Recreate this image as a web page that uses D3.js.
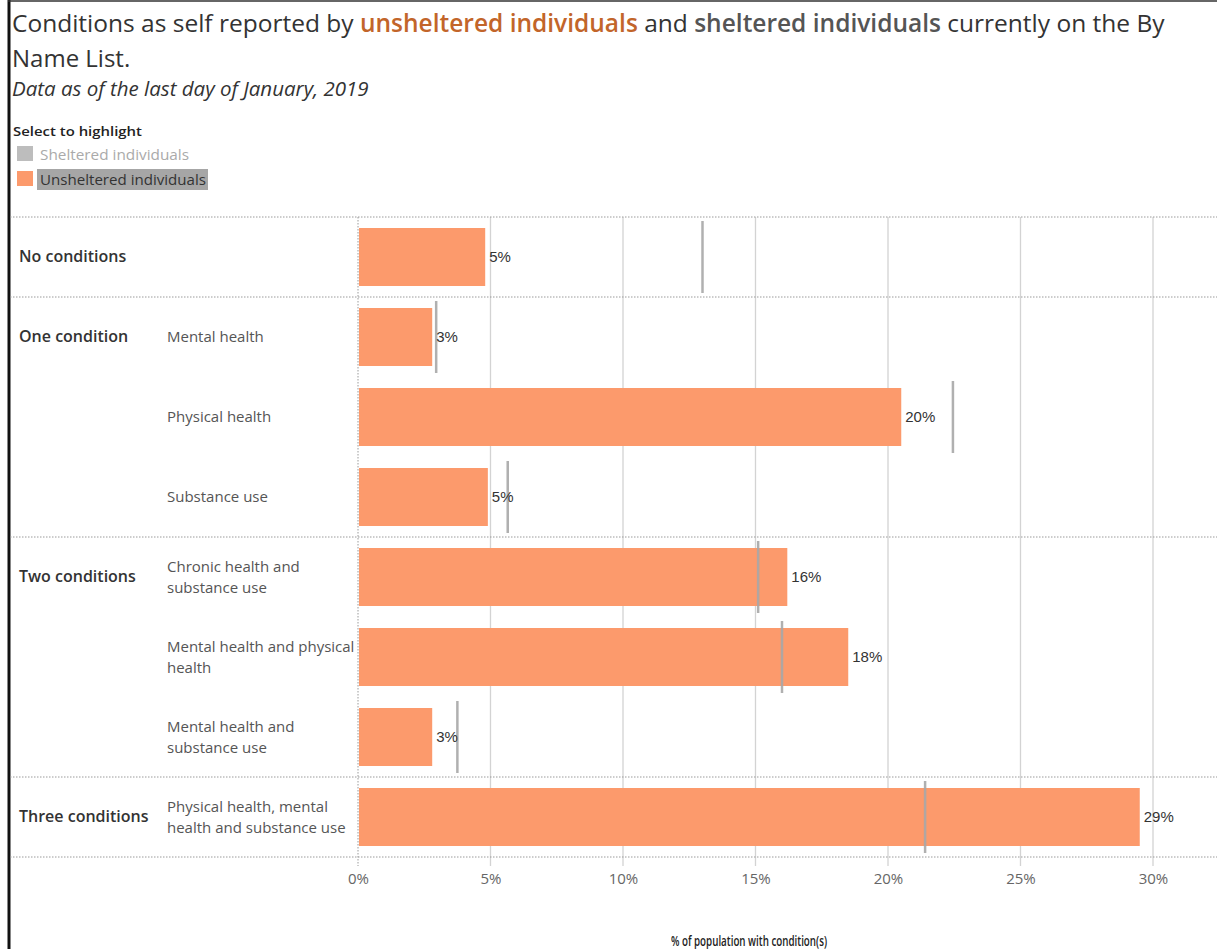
<!DOCTYPE html>
<html><head><meta charset="utf-8">
<script src="https://cdn.jsdelivr.net/npm/d3@7"></script>
<style>body{margin:0;background:#fff;font-family:"Open Sans",sans-serif}</style>
</head><body>
<svg id="c" width="1217" height="949"></svg>
<script>
const groups = ["No conditions","One condition","One condition","One condition","Two conditions","Two conditions","Two conditions","Three conditions"];
const subLabels = [[""],["Mental health"],["Physical health"],["Substance use"],["Chronic health and","substance use"],["Mental health and physical","health"],["Mental health and","substance use"],["Physical health, mental","health and substance use"]];
const unsheltered = [4.8, 2.8, 20.5, 4.9, 16.2, 18.5, 2.8, 29.5];
const sheltered = [13.0, 2.95, 22.45, 5.65, 15.1, 16.0, 3.75, 21.4];
const valueLabels = ["5%","3%","20%","5%","16%","18%","3%","29%"];
const tickValues = [0,5,10,15,20,25,30];
const groupNames = ["No conditions","One condition","Two conditions","Three conditions"];

const svg = d3.select("#c");
const W = 1217, H = 949;
const x = d3.scaleLinear().domain([0,30]).range([358,1153]);
const y = d3.scaleBand().domain(d3.range(unsheltered.length)).range([217,857]).paddingInner(0.275).paddingOuter(0.1375);
const rowY = d3.scaleBand().domain(d3.range(unsheltered.length)).range([217,857]);

// frame
svg.append("line").attr("x1",9).attr("x2",9).attr("y1",0).attr("y2",H).attr("stroke","#111").attr("stroke-width",3);
svg.append("line").attr("x1",8).attr("x2",W).attr("y1",1).attr("y2",1).attr("stroke","#333").attr("stroke-width",1.5);

// title
const t = svg.append("text").attr("x",12).attr("y",32).attr("font-size",24.5).attr("fill","#333");
t.append("tspan").text("Conditions as self reported by ");
t.append("tspan").text("unsheltered individuals").attr("fill","#c2652a").attr("font-weight",600);
t.append("tspan").text(" and ");
t.append("tspan").text("sheltered individuals").attr("fill","#555").attr("font-weight",600);
t.append("tspan").text(" currently on the By");
svg.append("text").attr("x",12).attr("y",67).attr("font-size",24).attr("fill","#333").text("Name List.");
svg.append("text").attr("x",12).attr("y",96).attr("font-size",20.5).attr("font-style","italic").attr("fill","#333").text("Data as of the last day of January, 2019");

// legend
svg.append("text").attr("x",13).attr("y",136).attr("font-size",13).attr("font-weight",600).attr("fill","#222")
  .attr("textLength",129).attr("lengthAdjust","spacingAndGlyphs").text("Select to highlight");
svg.append("rect").attr("x",17).attr("y",146).attr("width",16).attr("height",15).attr("fill","#bdbdbd");
svg.append("text").attr("x",40).attr("y",160).attr("font-size",14).attr("fill","#aaa")
  .attr("textLength",149).attr("lengthAdjust","spacingAndGlyphs").text("Sheltered individuals");
svg.append("rect").attr("x",37).attr("y",169).attr("width",171).attr("height",21).attr("fill","#a6a6a6");
svg.append("rect").attr("x",17).attr("y",171).attr("width",16).attr("height",15).attr("fill","#fc9a6c");
svg.append("text").attr("x",40).attr("y",185).attr("font-size",14).attr("fill","#333")
  .attr("textLength",166).attr("lengthAdjust","spacingAndGlyphs").text("Unsheltered individuals");

// gridlines
svg.append("g").selectAll("line").data(tickValues.filter(d=>d>0)).join("line")
  .attr("x1",d=>x(d)).attr("x2",d=>x(d)).attr("y1",217).attr("y2",866)
  .attr("stroke","#d3d3d3").attr("stroke-width",1.3);

// separators (dotted)
const sepRows = [0,1,4,7];
const seps = sepRows.map(i=>rowY(i)).concat([857]);
svg.append("g").selectAll("line").data(seps).join("line")
  .attr("x1",10).attr("x2",W).attr("y1",d=>d).attr("y2",d=>d)
  .attr("stroke","#9a9a9a").attr("stroke-width",1).attr("stroke-dasharray","1.5,1.5");
svg.append("line").attr("x1",358).attr("x2",358).attr("y1",217).attr("y2",866)
  .attr("stroke","#9a9a9a").attr("stroke-width",1).attr("stroke-dasharray","1.5,1.5");

// bars
svg.append("g").selectAll("rect").data(unsheltered).join("rect")
  .attr("x",x(0)+1).attr("y",(d,i)=>y(i)).attr("width",d=>x(d)-x(0)-1).attr("height",y.bandwidth())
  .attr("fill","#fc9a6c");

// sheltered ticks
svg.append("g").selectAll("line").data(sheltered).join("line")
  .attr("x1",d=>x(d)).attr("x2",d=>x(d))
  .attr("y1",(d,i)=>rowY(i)+rowY.bandwidth()/2-36).attr("y2",(d,i)=>rowY(i)+rowY.bandwidth()/2+36)
  .attr("stroke","#a8a8a8").attr("stroke-width",2.5).attr("opacity",0.9);

// value labels
svg.append("g").selectAll("text").data(unsheltered).join("text")
  .attr("x",d=>x(d)+4).attr("y",(d,i)=>rowY(i)+rowY.bandwidth()/2+5)
  .attr("font-size",15).attr("font-family","Liberation Sans, Arial").attr("fill","#333").text((d,i)=>valueLabels[i]);

// group labels
groupNames.forEach(g=>{
  const idx = groups.indexOf(g);
  svg.append("text").attr("x",19).attr("y",rowY(idx)+rowY.bandwidth()/2+5)
    .attr("font-size",16).attr("font-weight",600).attr("fill","#333").text(g);
});
// sub labels
subLabels.forEach((lines,i)=>{
  const cy = rowY(i)+rowY.bandwidth()/2;
  const n = lines.length;
  lines.forEach((l,j)=>{
    svg.append("text").attr("x",167).attr("y",cy+5+(j-(n-1)/2)*21)
      .attr("font-size",15).attr("fill","#555").text(l);
  });
});

// x axis
const ax = svg.append("g").attr("transform","translate(0,857)")
  .call(d3.axisBottom(x).tickValues(tickValues).tickFormat(d=>d+"%").tickSize(0).tickPadding(16));
ax.select(".domain").remove();
ax.selectAll("text").attr("font-size",15).attr("fill","#666").attr("font-family","Open Sans");

svg.append("text").attr("x",749).attr("y",946).attr("text-anchor","middle").attr("font-size",14)
  .attr("font-weight",600).attr("fill","#222").attr("textLength",156).attr("lengthAdjust","spacingAndGlyphs")
  .text("% of population with condition(s)");
</script>
</body></html>
